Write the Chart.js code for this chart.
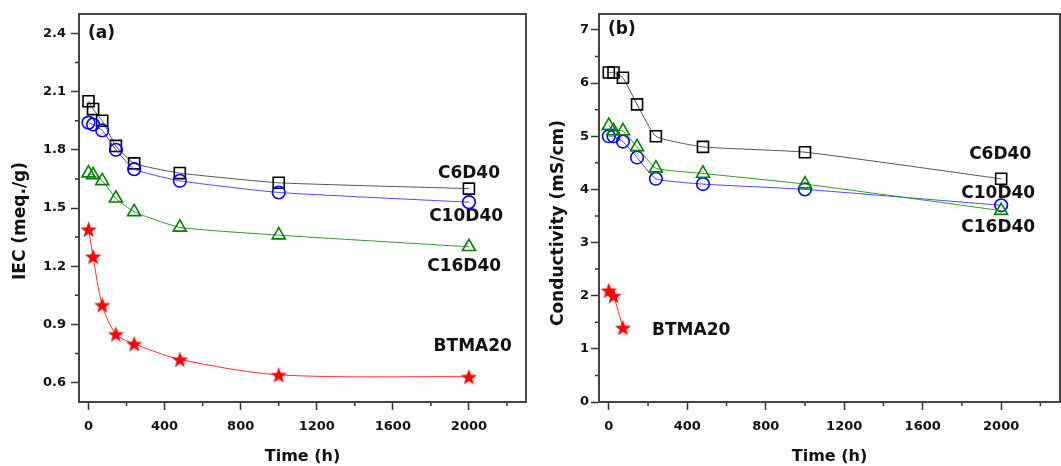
<!DOCTYPE html>
<html>
<head>
<meta charset="utf-8">
<script src="https://cdn.jsdelivr.net/npm/chart.js@4.4.1/dist/chart.umd.min.js"></script>
<style>
  html, body { margin: 0; padding: 0; background: #fff; }
  .panel { position: absolute; top: 0; }
</style>
</head>
<body>
<canvas id="chart-a" class="panel" width="530" height="466" style="left:0px"></canvas>
<canvas id="chart-b" class="panel" width="531" height="466" style="left:530px"></canvas>
<script>
"use strict";

// DATA
let timesH = [0, 24, 72, 144, 240, 480, 1000, 2000];

let iecC6D40 = [2.05, 2.01, 1.95, 1.82, 1.73, 1.68, 1.63, 1.60];
let iecC10D40 = [1.94, 1.93, 1.90, 1.80, 1.70, 1.64, 1.58, 1.53];
let iecC16D40 = [1.68, 1.67, 1.64, 1.55, 1.48, 1.40, 1.36, 1.30];
let iecBTMA20 = [1.39, 1.25, 1.00, 0.85, 0.80, 0.72, 0.64, 0.63];

let condC6D40 = [6.2, 6.2, 6.1, 5.6, 5.0, 4.8, 4.7, 4.2];
let condC10D40 = [5.0, 5.0, 4.9, 4.6, 4.2, 4.1, 4.0, 3.7];
let condC16D40 = [5.2, 5.1, 5.1, 4.8, 4.4, 4.3, 4.1, 3.6];
let condTimesBTMA20 = [0, 24, 72];
let condBTMA20 = [2.1, 2.0, 1.4];

// tick labels
let xTicks = [0, 400, 800, 1200, 1600, 2000];
let xMinorTicks = [200, 600, 1000, 1400, 1800, 2200];
let iecTicks = [0.6, 0.9, 1.2, 1.5, 1.8, 2.1, 2.4];
let iecMinorTicks = [0.75, 1.05, 1.35, 1.65, 1.95, 2.25];
let condTicks = [0, 1, 2, 3, 4, 5, 6, 7];
let condMinorTicks = [0.5, 1.5, 2.5, 3.5, 4.5, 5.5, 6.5];

let seriesNames = ["C6D40", "C10D40", "C16D40", "BTMA20"];

// STYLE
let FONT = "'DejaVu Sans', sans-serif";
let AXIS_COLOR = "#333";

function makeStar(r, color) {
  let size = Math.ceil(r * 2 + 2);
  let c = document.createElement("canvas");
  c.width = size;
  c.height = size;
  let g = c.getContext("2d");
  g.beginPath();
  for (let i = 0; i < 10; i++) {
    let ang = -Math.PI / 2 + i * Math.PI / 5;
    let rad = i % 2 ? r * 0.42 : r;
    let px = size / 2 + rad * Math.cos(ang);
    let py = size / 2 + rad * Math.sin(ang) + 0.8;
    if (i === 0) g.moveTo(px, py);
    else g.lineTo(px, py);
  }
  g.closePath();
  g.fillStyle = color;
  g.fill();
  return c;
}
let starImg = makeStar(8.5, "#ff0000");

function toPoints(xs, ys) {
  let pts = [];
  for (let i = 0; i < ys.length; i++) pts.push({ x: xs[i], y: ys[i] });
  return pts;
}

function series(label, xs, ys, markerColor, lineColor, shape, radius, tension) {
  return {
    label: label,
    data: toPoints(xs, ys),
    borderColor: lineColor,
    borderWidth: 1,
    pointStyle: shape,
    pointRadius: radius,
    pointBorderColor: markerColor,
    pointBackgroundColor: "rgba(0,0,0,0)",
    pointBorderWidth: 1.6,
    tension: tension,
    clip: false,
  };
}

// draws minor ticks, box frame, panel letter, y title and series labels
let decorPlugin = {
  id: "decor",
  beforeDatasetsDraw(chart) {
    let { ctx, chartArea } = chart;
    let o = chart.options.plugins.decor;
    let xs = chart.scales.x;
    let ys = chart.scales.y;
    ctx.save();
    ctx.strokeStyle = AXIS_COLOR;
    ctx.lineWidth = 1.5;
    ctx.beginPath();
    for (let v of o.xMinor) {
      let px = xs.getPixelForValue(v);
      ctx.moveTo(px, chartArea.bottom);
      ctx.lineTo(px, chartArea.bottom + 4);
    }
    for (let v of o.yMinor) {
      let py = ys.getPixelForValue(v);
      ctx.moveTo(chartArea.left, py);
      ctx.lineTo(chartArea.left - 4, py);
    }
    ctx.stroke();

    ctx.strokeStyle = "#444";
    ctx.lineWidth = 2;
    ctx.strokeRect(chartArea.left, chartArea.top, chartArea.right - chartArea.left, chartArea.bottom - chartArea.top);

    ctx.fillStyle = "#111";
    ctx.font = "bold 17px " + FONT;
    ctx.textAlign = "left";
    ctx.textBaseline = "middle";
    ctx.fillText(o.letter, chartArea.left + 9, ys.getPixelForValue(o.letterY));

    ctx.textAlign = "center";
    for (let lab of o.labels) {
      ctx.fillText(lab.text, xs.getPixelForValue(lab.x), ys.getPixelForValue(lab.y));
    }

    ctx.translate(o.titleX, o.titleY);
    ctx.rotate(-Math.PI / 2);
    ctx.fillText(o.yTitle, 0, 0);
    ctx.restore();
  },
};

function makePanel(canvasId, datasets, yMin, yMax, yMajor, yFmt, yLabelPad, yAxisWidth, rightPad, decor) {
  let ctx = document.getElementById(canvasId);
  return new Chart(ctx, {
    type: "line",
    data: { datasets: datasets },
    plugins: [decorPlugin],
    options: {
      responsive: false,
      animation: false,
      events: [],
      layout: { autoPadding: false, padding: { top: 14, right: rightPad, bottom: 0, left: 0 } },
      plugins: {
        legend: { display: false },
        tooltip: { enabled: false },
        decor: decor,
      },
      scales: {
        x: {
          type: "linear",
          min: -50,
          max: 2300,
          afterBuildTicks(scale) {
            scale.ticks = xTicks.map((v) => ({ value: v }));
          },
          afterFit(scale) {
            scale.height = 64;
          },
          grid: { drawOnChartArea: false, tickLength: 8, tickWidth: 1.5, tickColor: AXIS_COLOR },
          border: { color: AXIS_COLOR, width: 1.5 },
          ticks: {
            color: "#111",
            font: { family: FONT, size: 13, weight: "bold" },
            padding: 9,
            maxRotation: 0,
            autoSkip: false,
            callback: (v) => String(v),
          },
          title: {
            display: true,
            text: "Time (h)",
            color: "#111",
            font: { family: FONT, size: 16, weight: "bold" },
            padding: { top: 0, bottom: 0 },
          },
        },
        y: {
          type: "linear",
          min: yMin,
          max: yMax,
          afterBuildTicks(scale) {
            scale.ticks = yMajor.map((v) => ({ value: v }));
          },
          afterFit(scale) {
            scale.width = yAxisWidth;
          },
          grid: { drawOnChartArea: false, tickLength: 8, tickWidth: 1.5, tickColor: AXIS_COLOR },
          border: { color: AXIS_COLOR, width: 1.5 },
          ticks: {
            color: "#111",
            font: { family: FONT, size: 13, weight: "bold" },
            padding: yLabelPad,
            autoSkip: false,
            callback: yFmt,
          },
        },
      },
    },
  });
}

// dataset 0 is painted on top, so triangles > circles > squares
let iecSets = [
  series(seriesNames[2], timesH, iecC16D40, "#008000", "#2c9a2c", "triangle", 7.5, 0.15),
  series(seriesNames[1], timesH, iecC10D40, "#0000ff", "#4a4aff", "circle", 6.3, 0.15),
  series(seriesNames[0], timesH, iecC6D40, "#000000", "#555555", "rect", 7.8, 0.15),
  series(seriesNames[3], timesH, iecBTMA20, "#ff0000", "#ff3030", starImg, 8, 0.3),
];

let condSets = [
  series(seriesNames[2], timesH, condC16D40, "#008000", "#2c9a2c", "triangle", 7.5, 0.15),
  series(seriesNames[1], timesH, condC10D40, "#0000ff", "#4a4aff", "circle", 6.3, 0.15),
  series(seriesNames[0], timesH, condC6D40, "#000000", "#555555", "rect", 7.8, 0.15),
  series(seriesNames[3], condTimesBTMA20, condBTMA20, "#ff0000", "#ff3030", starImg, 8, 0.15),
];

makePanel("chart-a", iecSets, 0.5, 2.5, iecTicks, (v) => v.toFixed(1), 5, 79, 4, {
  letter: "(a)",
  letterY: 2.4,
  xMinor: xMinorTicks,
  yMinor: iecMinorTicks,
  yTitle: "IEC (meq./g)",
  titleX: 21,
  titleY: 221,
  labels: [
    { text: seriesNames[0], x: 2000, y: 1.68 },
    { text: seriesNames[1], x: 1985, y: 1.455 },
    { text: seriesNames[2], x: 1975, y: 1.2 },
    { text: seriesNames[3], x: 2020, y: 0.785 },
  ],
});

makePanel("chart-b", condSets, 0, 7.3, condTicks, (v) => String(v), 2, 69, 1, {
  letter: "(b)",
  letterY: 7,
  xMinor: xMinorTicks,
  yMinor: condMinorTicks,
  yTitle: "Conductivity (mS/cm)",
  titleX: 29,
  titleY: 223,
  labels: [
    { text: seriesNames[0], x: 1995, y: 4.66 },
    { text: seriesNames[1], x: 1985, y: 3.93 },
    { text: seriesNames[2], x: 1985, y: 3.28 },
    { text: seriesNames[3], x: 420, y: 1.35 },
  ],
});
</script>
</body>
</html>
